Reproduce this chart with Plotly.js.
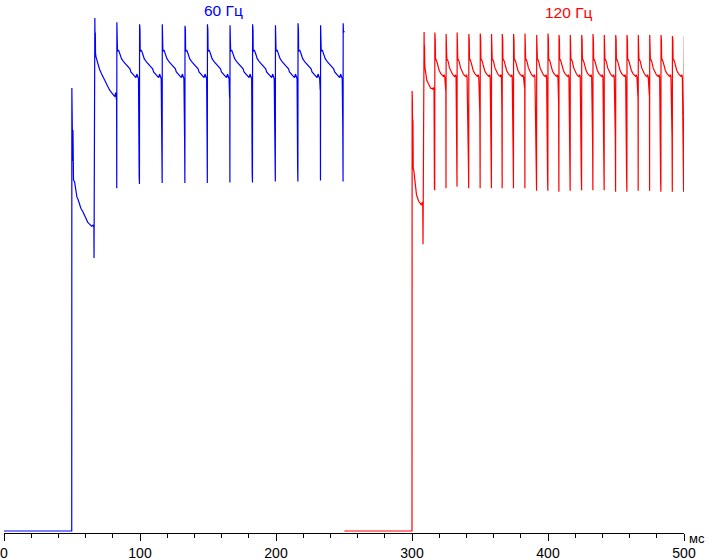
<!DOCTYPE html>
<html>
<head>
<meta charset="utf-8">
<script src="https://cdn.plot.ly/plotly-3.0.1.min.js"></script>
<style>html,body{margin:0;padding:0;background:#fff;}#chart{width:711px;height:560px;}</style>
</head>
<body>
<div id="chart"></div>
<script>
// ---- 60 Hz (blue): lead-in, first two cycles read point by point (ms, level %) ----
const blueLeadMs = [0, 49.8, 49.9, 50.1, 50.3, 50.5, 50.7, 50.9, 51.1, 51.9, 52.6, 53.6, 54.6, 55.6, 56.5, 58.0, 59.0, 60.0, 61.5, 62.9, 64.4, 65.4, 65.9, 66.1, 66.2, 66.3, 66.7, 66.8, 67.0, 67.15, 67.3, 67.6, 68.3, 69.3, 70.3, 71.8, 73.2, 74.9, 76.7, 77.6, 79.1, 80.6, 81.5, 82.1, 82.5];
const blueLeadV  = [0, 0, 86.2, 75.5, 84.0, 72.0, 78.0, 70.2, 68.3, 67.9, 66.5, 65.0, 64.4, 63.4, 62.8, 62.1, 61.5, 60.9, 60.1, 59.7, 59.3, 59.5, 59.1, 59.1, 53.1, 81.3, 81.3, 99.8, 93.5, 97.0, 93.0, 92.3, 91.6, 90.7, 89.8, 88.9, 88.1, 87.4, 86.4, 85.8, 85.3, 84.8, 84.5, 85.3, 84.2];
// later 60 Hz refresh spikes
const blueSpikeMs = [83.0, 99.7, 116.4, 133.1, 149.6, 166.2, 182.8, 199.6, 216.2, 232.8, 249.4];
const blueTop     = [99.0, 98.6, 98.6, 98.3, 98.6, 98.4, 98.6, 98.4, 98.8, 98.4, 98.8];
const blueBottom  = [66.7, 67.5, 67.7, 67.7, 67.7, 67.8, 67.8, 68.0, 68.0, 68.2, 68.0];
const blueDip     = [83.9, 68.9, null, 76.1, 77.4, 84.3, 69.6, null, 70.8, 85.8, 78.4];
// decay after each spike, read from one cycle (ms after spike, level %)
const blueShapeDt = [0.15, 0.3, 0.45, 1.2, 2.2, 3.4, 5.2, 7.1, 8.6, 9.6, 10.3, 11.5, 12.8, 14.0, 14.7, 15.3, 15.9];
const blueShapeV  = [93.5, 97.5, 93.3, 93.6, 92.9, 91.9, 91.2, 90.7, 90.2, 89.9, 89.3, 88.9, 88.5, 88.2, 88.9, 88.1, 88.0];
const blueTailMs = [249.6, 250.4];
const blueTailV  = [97.0, 97.2];

// ---- 120 Hz (red) ----
const redLeadMs = [250.3, 300.0, 300.1, 300.3, 300.5, 300.7, 300.9, 301.4, 301.9, 302.3, 303.3, 304.1, 305.0, 306.0, 307.0, 307.6, 307.9, 308.1, 308.3, 308.7, 308.9, 309.05, 309.2, 309.4, 309.6, 310.2, 310.9, 311.9, 312.9, 313.8, 314.8, 315.3, 315.8, 316.2];
const redLeadV  = [0, 0, 85.6, 83.3, 72.0, 80.0, 70.6, 70.0, 68.9, 67.0, 65.4, 64.8, 64.1, 63.8, 63.4, 64.0, 63.4, 55.8, 85.1, 85.1, 97.1, 92.0, 94.5, 90.7, 90.0, 88.7, 87.7, 87.1, 86.4, 86.1, 86.1, 85.9, 86.3, 85.9];
const redSpikeMs = [316.8, 325.1, 333.2, 341.8, 350.2, 358.5, 366.4, 374.7, 383.1, 391.7, 400.0, 408.1, 416.4, 424.8, 433.1, 441.4, 449.8, 458.1, 466.4, 474.8, 483.1, 491.5, 499.8];
const redTop     = [97.0, 96.7, 97.0, 96.7, 96.8, 96.7, 96.7, 96.7, 96.8, 96.5, 96.8, 96.5, 96.5, 96.5, 96.7, 96.5, 96.5, 96.5, 96.5, 96.5, 96.5, 96.3, 94.2];
const redBottom  = [66.3, 66.7, 67.0, 66.7, 66.7, 66.7, 66.7, 66.7, 66.7, 66.2, 66.2, 66.0, 66.2, 66.3, 66.3, 66.3, 66.0, 66.0, 66.2, 66.2, 66.0, 66.0, 66.0];
const redDip     = [66.7, 85.7, null, 71.2, 80.9, null, 81.4, 72.8, 86.2, null, 68.1, 83.3, null, 68.9, 75.7, null, 76.7, 68.9, 84.5, 84.8, 68.3, 76.7, null];
const redShapeDt = [0.15, 0.3, 0.5, 0.8, 1.5, 2.5, 3.2, 4.4, 5.4, 6.4, 6.9, 7.3];
const redShapeV  = [92.5, 95.5, 91.6, 91.8, 91.3, 90.1, 89.6, 89.0, 88.6, 88.4, 88.8, 88.3];
const redTailMs = [499.95, 500.3];
const redTailV  = [95.0, 96.3];

const xTickVals = [0, 100, 200, 300, 400, 500];
const xTickText = ['0', '100', '200', '300', '400', '500'];

function build(leadX, leadY, spikes, tops, bottoms, dips, shDt, shV, tailX, tailY) {
  const x = leadX.slice(), y = leadY.slice();
  for (let i = 0; i < spikes.length; i++) {
    const t = spikes[i];
    const prev = y[y.length - 1];
    if (dips[i] !== null) { x.push(t - 0.3); y.push(dips[i]); x.push(t - 0.2); y.push(prev); }
    x.push(t - 0.1); y.push(bottoms[i]);
    x.push(t); y.push(tops[i]);
    if (i < spikes.length - 1) {
      for (let k = 0; k < shDt.length; k++) { x.push(+(t + shDt[k]).toFixed(2)); y.push(shV[k]); }
    }
  }
  for (let k = 0; k < tailX.length; k++) { x.push(tailX[k]); y.push(tailY[k]); }
  return {x, y};
}

const b = build(blueLeadMs, blueLeadV, blueSpikeMs, blueTop, blueBottom, blueDip, blueShapeDt, blueShapeV, blueTailMs, blueTailV);
const r = build(redLeadMs, redLeadV, redSpikeMs, redTop, redBottom, redDip, redShapeDt, redShapeV, redTailMs, redTailV);

const traces = [
  {x: b.x, y: b.y, type: 'scatter', mode: 'lines', line: {color: '#0000ff', width: 1.2}, hoverinfo: 'skip', showlegend: false},
  {x: r.x, y: r.y, type: 'scatter', mode: 'lines', line: {color: '#ff0000', width: 1.2}, hoverinfo: 'skip', showlegend: false}
];

const layout = {
  width: 711, height: 560,
  margin: {l: 4, r: 27, t: 17, b: 27, pad: 0},
  paper_bgcolor: '#ffffff', plot_bgcolor: '#ffffff',
  font: {family: 'Arial, "Liberation Sans", sans-serif', size: 14, color: '#000'},
  showlegend: false,
  xaxis: {
    range: [0, 500], showgrid: false, zeroline: false,
    showline: true, linecolor: '#000', linewidth: 1,
    ticks: 'outside', ticklen: 7, tickwidth: 1, tickcolor: '#000',
    tickmode: 'array', tickvals: xTickVals, ticktext: xTickText,
    tickfont: {family: 'Arial, "Liberation Sans", sans-serif', size: 14, color: '#000'},
    minor: {dtick: 20, tick0: 0, ticks: 'outside', ticklen: 4, tickwidth: 1, tickcolor: '#000', showgrid: false},
    fixedrange: true
  },
  yaxis: {range: [-0.389, 100], visible: false, showgrid: false, zeroline: false, fixedrange: true},
  annotations: [
    {text: '60 Гц', xref: 'x', yref: 'paper', x: 161.5, y: 1.0320, xanchor: 'center', yanchor: 'top', showarrow: false,
     font: {family: 'Arial, "Liberation Sans", sans-serif', size: 15.5, color: '#0000ff'}},
    {text: '120 Гц', xref: 'x', yref: 'paper', x: 415.4, y: 1.0095, xanchor: 'center', yanchor: 'middle', showarrow: false,
     font: {family: 'Arial, "Liberation Sans", sans-serif', size: 15.5, color: '#ff0000'}},
    {text: 'мс', xref: 'paper', yref: 'paper', x: 1.019, y: -0.010, xanchor: 'center', yanchor: 'middle', showarrow: false,
     font: {family: 'Arial, "Liberation Sans", sans-serif', size: 13, color: '#000'}}
  ]
};

Plotly.newPlot('chart', traces, layout, {staticPlot: true, displayModeBar: false});
</script>
</body>
</html>
